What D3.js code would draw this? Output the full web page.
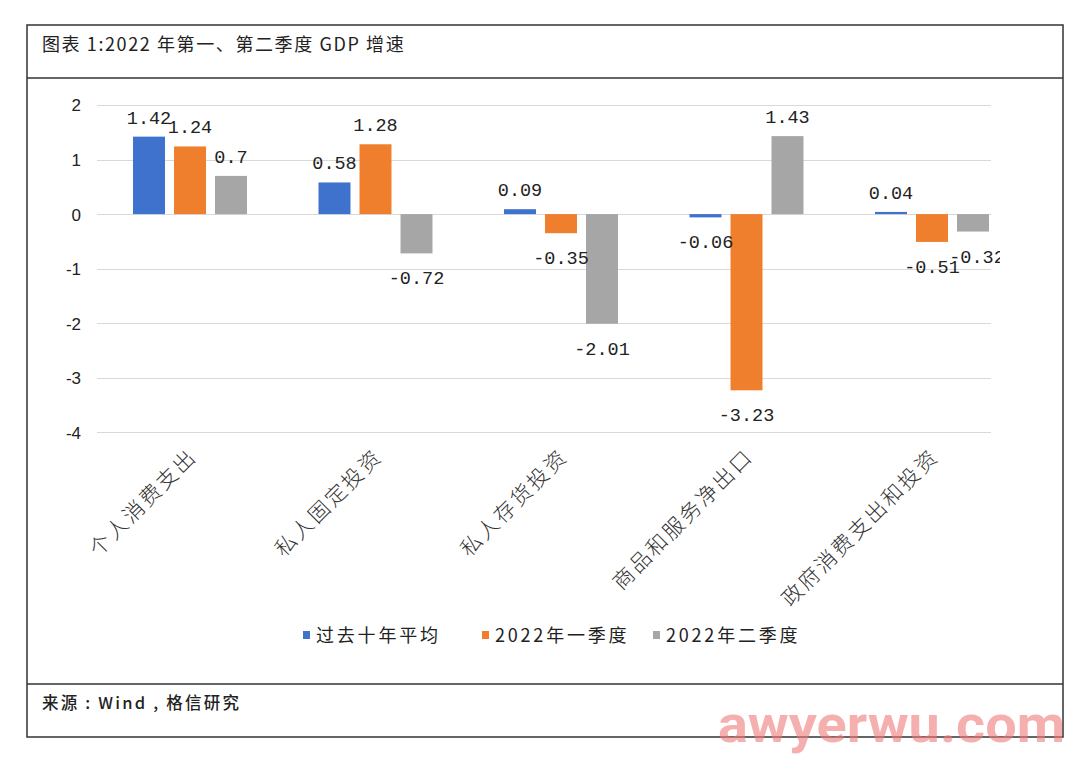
<!DOCTYPE html>
<html>
<head>
<meta charset="utf-8">
<script src="https://cdn.jsdelivr.net/npm/d3@7/dist/d3.min.js"></script>
<style>
html,body{margin:0;padding:0;background:#fff;}
svg{display:block;}
</style>
</head>
<body>
<svg id="chart" width="1080" height="762"></svg>
<script>
const categories = ["个人消费支出","私人固定投资","私人存货投资","商品和服务净出口","政府消费支出和投资"];
const seriesNames = ["过去十年平均","2022年一季度","2022年二季度"];
const avg10y = [1.42, 0.58, 0.09, -0.06, 0.04];
const q1_2022 = [1.24, 1.28, -0.35, -3.23, -0.51];
const q2_2022 = [0.7, -0.72, -2.01, 1.43, -0.32];
const yTicks = [2, 1, 0, -1, -2, -3, -4];
const colors = ["#3f72cc", "#ef7f2c", "#a6a6a6"];
const titleText = "图表 1:2022 年第一、第二季度 GDP 增速";
const sourceText = "来源 : Wind , 格信研究";

const svg = d3.select("#chart");
const seriesValues = [avg10y, q1_2022, q2_2022];

// frame
svg.append("rect").attr("x",27).attr("y",25).attr("width",1036).attr("height",712)
  .attr("fill","none").attr("stroke","#333").attr("stroke-width",1.5);
svg.append("line").attr("x1",27).attr("x2",1063).attr("y1",78).attr("y2",78)
  .attr("stroke","#333").attr("stroke-width",1.5);
svg.append("line").attr("x1",27).attr("x2",1063).attr("y1",684).attr("y2",684)
  .attr("stroke","#333").attr("stroke-width",1.5);

svg.append("text").attr("x",42).attr("y",51).text(titleText)
  .attr("font-family","'Noto Sans CJK SC', sans-serif").attr("font-size",18)
  .attr("letter-spacing",1.6).attr("fill","#222");
svg.append("text").attr("x",42).attr("y",709).text(sourceText)
  .attr("font-family","'Noto Sans CJK SC', sans-serif").attr("font-size",16.5)
  .attr("letter-spacing",2.2).attr("font-weight",500).attr("fill","#222");

const y = d3.scaleLinear().domain([-4, 2]).range([432.3, 105]);
const x0 = d3.scaleBand().domain(categories).range([97.25, 1024.75]);
const x1 = d3.scaleBand().domain(seriesNames).range([-61.5, 61.5]).paddingInner(0.22).paddingOuter(0.11);

const defs = svg.append("defs");
defs.append("clipPath").attr("id","plotClip").append("rect")
  .attr("x",0).attr("y",90).attr("width",991).attr("height",360);
defs.append("clipPath").attr("id","labelClip").append("rect")
  .attr("x",0).attr("y",90).attr("width",1000).attr("height",360);

// grid
const grid = svg.append("g").attr("clip-path","url(#plotClip)");
grid.selectAll("line").data(yTicks).join("line")
  .attr("x1",97).attr("x2",1024)
  .attr("y1",d=>Math.round(y(d))+0.5).attr("y2",d=>Math.round(y(d))+0.5)
  .attr("stroke","#d9d9d9").attr("stroke-width",1.2);

// y axis labels
const yAxis = d3.axisLeft(y).tickValues(yTicks).tickSize(0).tickPadding(0).tickFormat(d=>String(d));
const ya = svg.append("g").attr("transform","translate(81,0)").call(yAxis);
ya.select(".domain").remove();
ya.selectAll("text").attr("font-family","'Liberation Sans', Arial, sans-serif")
  .attr("font-size",17).attr("fill","#222").attr("dy","0.35em").attr("text-anchor","end");

// bars
const data = [];
categories.forEach((c,i)=>{
  seriesNames.forEach((s,j)=>{
    data.push({cat:c, ser:s, j:j, v:seriesValues[j][i]});
  });
});
const bars = svg.append("g").attr("clip-path","url(#plotClip)");
bars.selectAll("rect").data(data).join("rect")
  .attr("x",d=>x0(d.cat)+x0.bandwidth()/2 + x1(d.ser))
  .attr("width",x1.bandwidth())
  .attr("y",d=>Math.min(y(d.v),y(0)))
  .attr("height",d=>Math.max(1.5,Math.abs(y(d.v)-y(0))))
  .attr("fill",d=>colors[d.j]);

// data labels
const labels = svg.append("g").attr("clip-path","url(#labelClip)");
labels.selectAll("text").data(data).join("text")
  .attr("x",d=>x0(d.cat)+x0.bandwidth()/2 + x1(d.ser) + x1.bandwidth()/2 + (d.cat===categories[4] && d.j===2 ? 4 : 0))
  .attr("y",d=>d.v>=0 ? y(d.v)-13 : y(d.v)+31)
  .attr("text-anchor","middle")
  .attr("font-family","'Liberation Mono','DejaVu Sans Mono', monospace")
  .attr("font-size",18.5).attr("fill","#222")
  .text(d=>String(d.v));

// category labels
const xAxis = d3.axisBottom(x0).tickSize(0).tickPadding(0);
const xa = svg.append("g").call(xAxis);
xa.select(".domain").remove();
xa.selectAll(".tick text")
  .attr("y",0).attr("dy",0)
  .attr("text-anchor","end")
  .attr("font-family","'Noto Sans CJK SC', serif")
  .attr("font-size",21).attr("font-weight",300).attr("letter-spacing",2.5).attr("fill","#333")
  .attr("transform","translate(8,458) rotate(-45)");

// legend
const legendItems = [
  {name: seriesNames[0], color: colors[0], x: 303},
  {name: seriesNames[1], color: colors[1], x: 482},
  {name: seriesNames[2], color: colors[2], x: 653}
];
const lg = svg.append("g");
const li = lg.selectAll("g").data(legendItems).join("g")
  .attr("transform",d=>`translate(${d.x},636)`);
li.append("rect").attr("x",0).attr("y",-5).attr("width",7).attr("height",8).attr("fill",d=>d.color);
li.append("text").attr("x",13).attr("y",0).attr("dy","0.35em")
  .attr("font-family","'Noto Sans CJK SC', sans-serif").attr("font-size",18)
  .attr("letter-spacing",2.8).attr("fill","#222").text(d=>d.name);

// watermark
svg.append("text").attr("x",718).attr("y",742).text("awyerwu.com")
  .attr("font-family","'Liberation Sans Narrow','Roboto', sans-serif")
  .attr("font-size",52).attr("font-weight","bold").attr("fill","#f07a7a").attr("fill-opacity",0.6)
  .attr("textLength",347).attr("lengthAdjust","spacingAndGlyphs");
</script>
</body>
</html>
